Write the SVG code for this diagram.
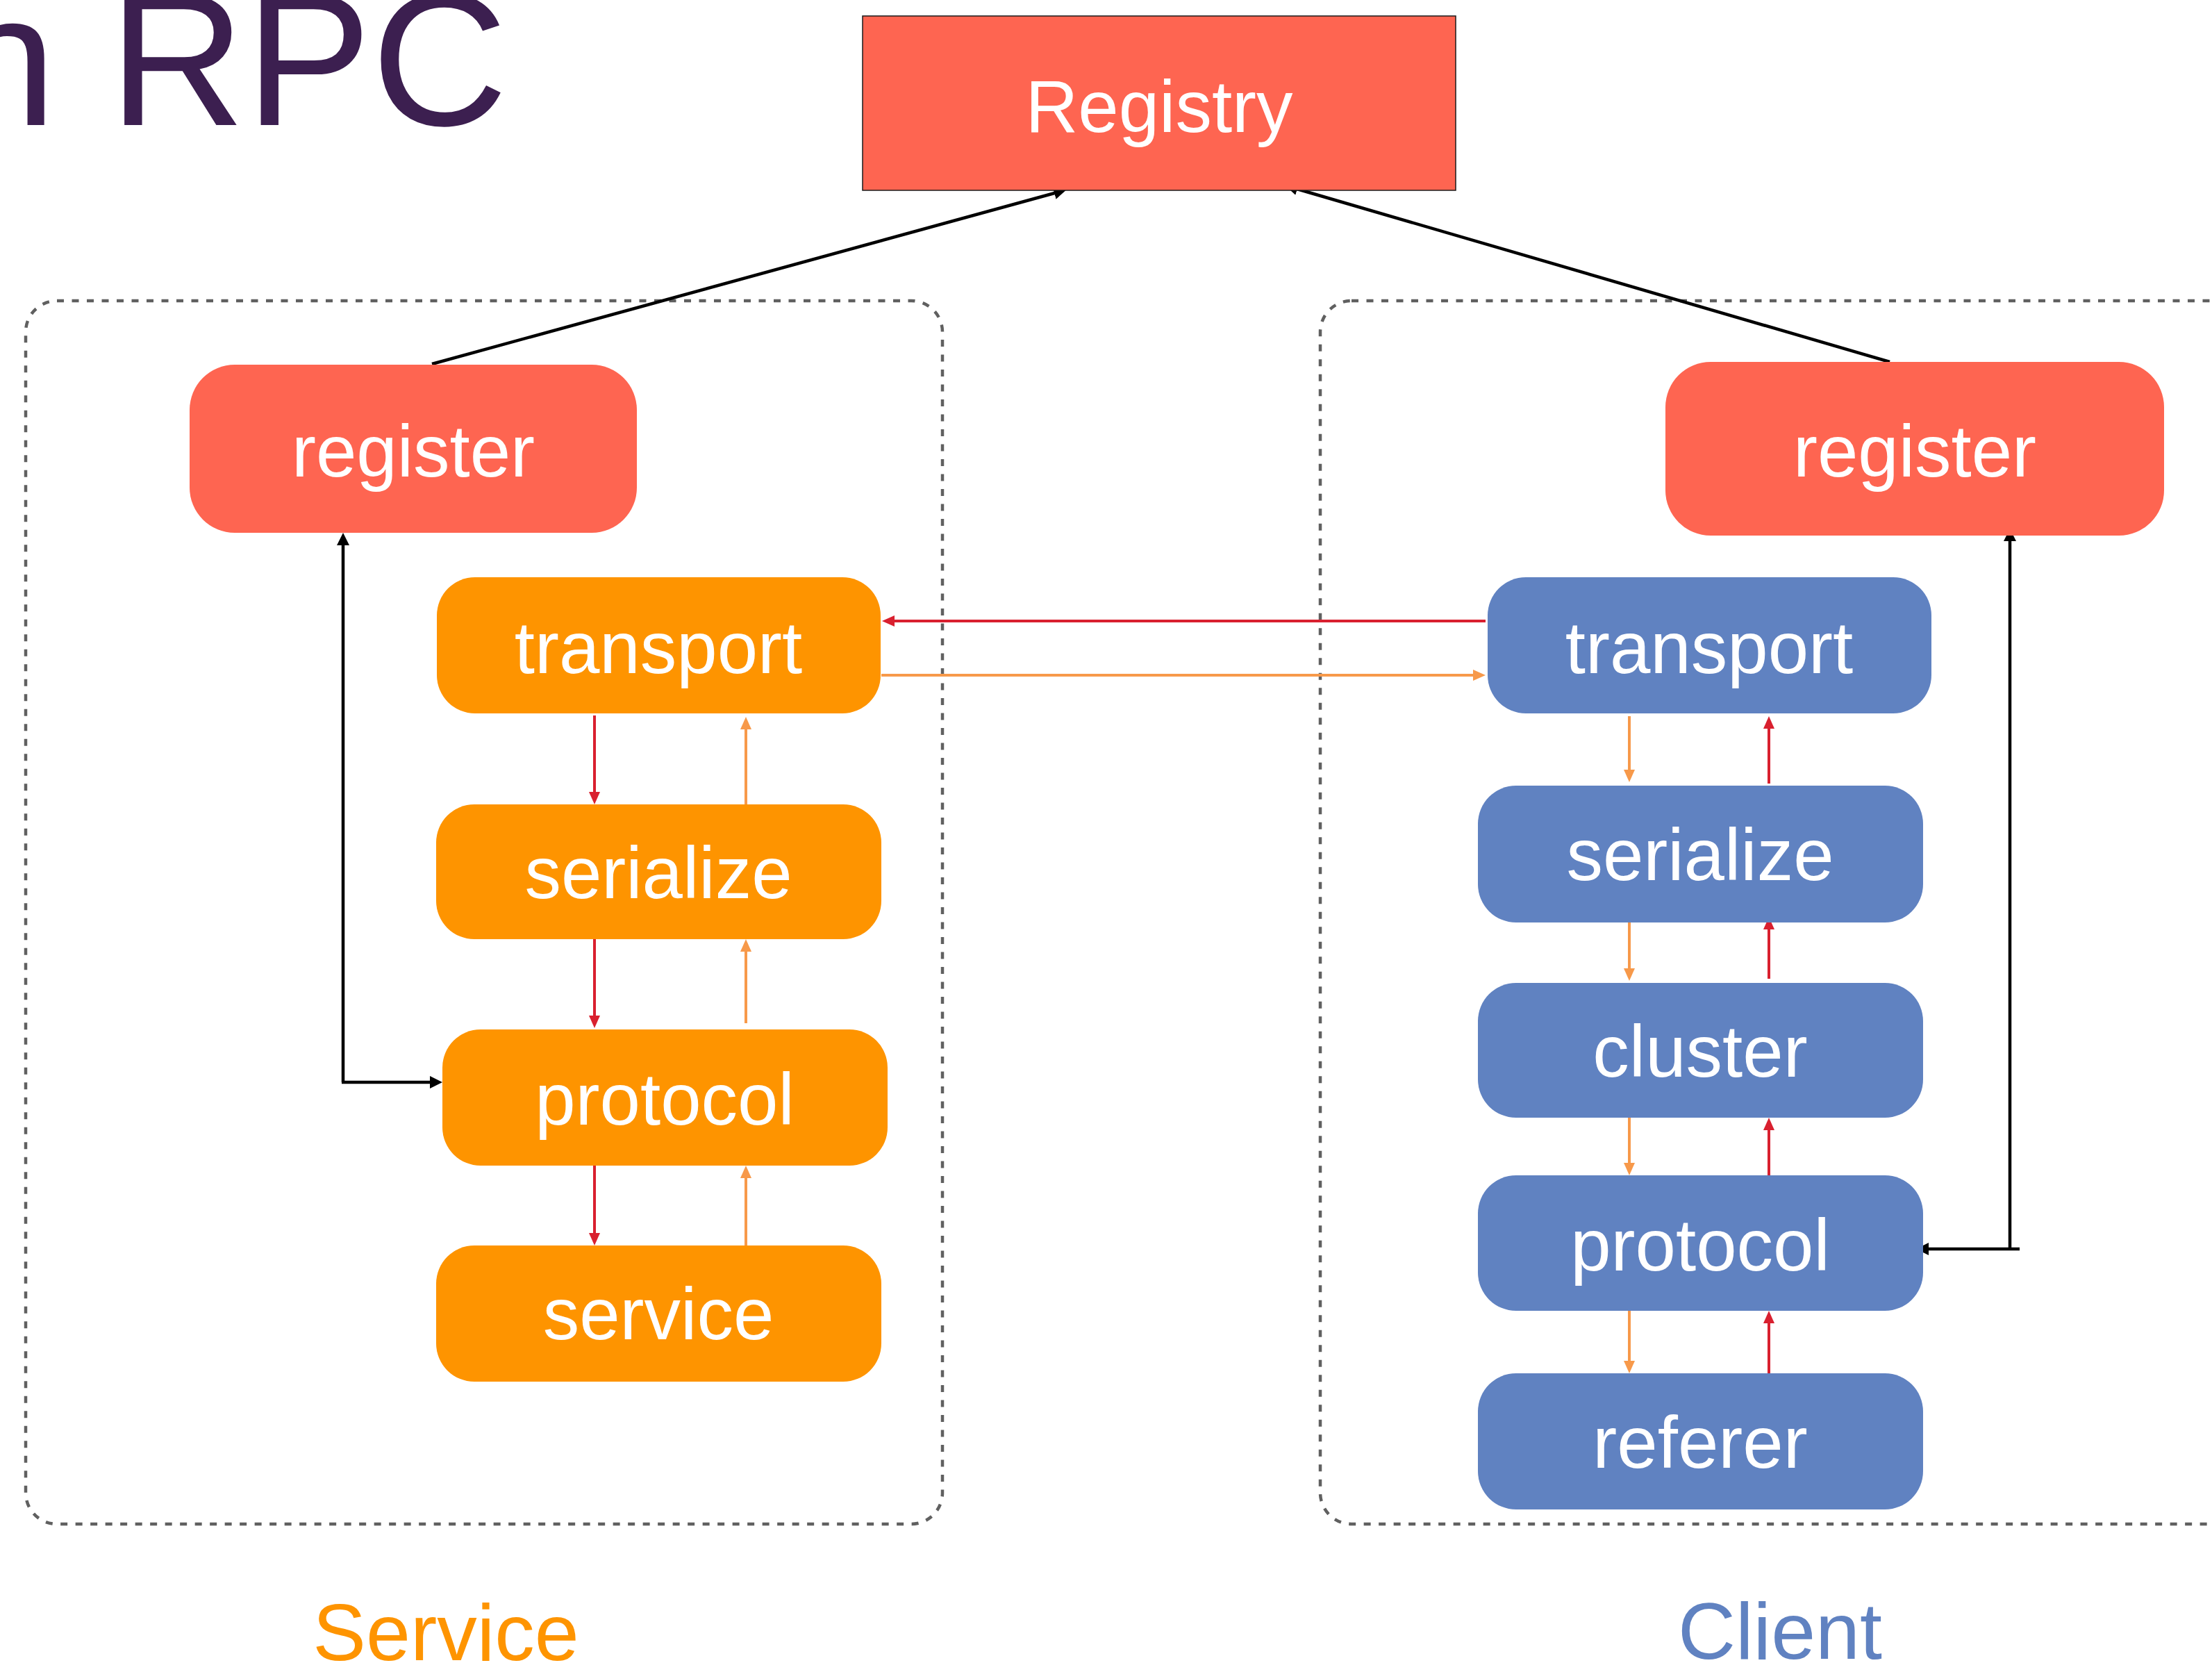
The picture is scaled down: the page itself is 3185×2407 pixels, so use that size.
<svg xmlns="http://www.w3.org/2000/svg" width="3185" height="2407" viewBox="0 0 3185 2407">
  <style>
    .lbl { font-family: "Liberation Sans", Arial, Helvetica, sans-serif; font-size: 105px; fill: #ffffff; text-anchor: middle; }
    .coral { fill: #FE6551; }
    .orange { fill: #FE9400; }
    .blue { fill: #6082C1; }
    .group-box { fill: none; stroke: #606060; stroke-width: 4.5; stroke-dasharray: 10 11.5; }
    .blk { fill: none; stroke: #000000; stroke-width: 4.5; }
    .red { fill: none; stroke: #D9202F; stroke-width: 4; }
    .org { fill: none; stroke: #F7994A; stroke-width: 4; }
    .caption { font-family: "Liberation Sans", Arial, Helvetica, sans-serif; font-size: 115px; text-anchor: middle; }
  </style>
  <defs>
    <marker id="ah-black" markerUnits="userSpaceOnUse" markerWidth="18" markerHeight="18" viewBox="0 0 18 18" refX="4" refY="9" orient="auto">
      <path d="M0,0 L18,9 L0,18 z" fill="#000000"/>
    </marker>
    <marker id="ah-red" markerUnits="userSpaceOnUse" markerWidth="18" markerHeight="16" viewBox="0 0 18 16" refX="4" refY="8" orient="auto">
      <path d="M0,0 L18,8 L0,16 z" fill="#D9202F"/>
    </marker>
    <marker id="ah-orange" markerUnits="userSpaceOnUse" markerWidth="18" markerHeight="16" viewBox="0 0 18 16" refX="4" refY="8" orient="auto">
      <path d="M0,0 L18,8 L0,16 z" fill="#F7994A"/>
    </marker>
  </defs>

  <rect width="3185" height="2407" fill="#ffffff"/>

  <!-- heading -->
  <text x="-70" y="180" font-family="Liberation Sans, Arial, sans-serif" font-size="272" fill="#3C1F50">n RPC</text>

  <!-- side containers -->
  <rect class="group-box" x="37" y="433" width="1320" height="1761" rx="45"/>
  <rect class="group-box" x="1901" y="433" width="1380" height="1761" rx="45"/>

  <!-- connectors -->
  <g id="connectors">
    <!-- registration links -->
    <path class="blk" d="M622,524 L1522,277" marker-end="url(#ah-black)"/>
    <path class="blk" d="M2721,521 L1864,271" marker-end="url(#ah-black)"/>
    <!-- service side: protocol <-> register -->
    <path class="blk" d="M494,1558 L494,781" marker-end="url(#ah-black)"/>
    <path class="blk" d="M492,1558 L623,1558" marker-end="url(#ah-black)"/>
    <!-- client side: register <-> protocol -->
    <path class="blk" d="M2894,1798 L2894,775" marker-end="url(#ah-black)"/>
    <path class="blk" d="M2908,1798 L2773,1798" marker-end="url(#ah-black)"/>

    <!-- transport to transport -->
    <path class="red" d="M2139,894 L1284,894" marker-end="url(#ah-red)"/>
    <path class="org" d="M1269,972 L2125,972" marker-end="url(#ah-orange)"/>

    <!-- service stack: down (red) -->
    <path class="red" d="M856,1030 L856,1144" marker-end="url(#ah-red)"/>
    <path class="red" d="M856,1352 L856,1466" marker-end="url(#ah-red)"/>
    <path class="red" d="M856,1678 L856,1779" marker-end="url(#ah-red)"/>
    <!-- service stack: up (orange) -->
    <path class="org" d="M1074,1158 L1074,1046" marker-end="url(#ah-orange)"/>
    <path class="org" d="M1074,1473 L1074,1366" marker-end="url(#ah-orange)"/>
    <path class="org" d="M1074,1793 L1074,1692" marker-end="url(#ah-orange)"/>

    <!-- client stack: down (orange) -->
    <path class="org" d="M2346,1031 L2346,1112" marker-end="url(#ah-orange)"/>
    <path class="org" d="M2346,1328 L2346,1398" marker-end="url(#ah-orange)"/>
    <path class="org" d="M2346,1609 L2346,1678" marker-end="url(#ah-orange)"/>
    <path class="org" d="M2346,1887 L2346,1963" marker-end="url(#ah-orange)"/>
    <!-- client stack: up (red) -->
    <path class="red" d="M2547,1128 L2547,1045" marker-end="url(#ah-red)"/>
    <path class="red" d="M2547,1409 L2547,1334" marker-end="url(#ah-red)"/>
    <path class="red" d="M2547,1692 L2547,1623" marker-end="url(#ah-red)"/>
    <path class="red" d="M2547,1977 L2547,1901" marker-end="url(#ah-red)"/>
  </g>

  <!-- registry -->
  <g id="registry">
    <rect x="1242" y="23" width="854" height="251" fill="#FE6551" stroke="#1a1a1a" stroke-width="1.5"/>
    <text class="lbl" x="1669" y="190">Registry</text>
  </g>

  <!-- service side -->
  <g id="svc-register">
    <rect class="coral" x="273" y="525" width="644" height="242" rx="65"/>
    <text class="lbl" x="595" y="686">register</text>
  </g>
  <g id="svc-transport">
    <rect class="orange" x="629" y="831" width="639" height="196" rx="55"/>
    <text class="lbl" x="948" y="969">transport</text>
  </g>
  <g id="svc-serialize">
    <rect class="orange" x="628" y="1158" width="641" height="194" rx="55"/>
    <text class="lbl" x="948" y="1293">serialize</text>
  </g>
  <g id="svc-protocol">
    <rect class="orange" x="637" y="1482" width="641" height="196" rx="55"/>
    <text class="lbl" x="957" y="1619">protocol</text>
  </g>
  <g id="svc-service">
    <rect class="orange" x="628" y="1793" width="641" height="196" rx="55"/>
    <text class="lbl" x="948" y="1928">service</text>
  </g>

  <!-- client side -->
  <g id="cli-register">
    <rect class="coral" x="2398" y="521" width="718" height="250" rx="65"/>
    <text class="lbl" x="2757" y="686">register</text>
  </g>
  <g id="cli-transport">
    <rect class="blue" x="2142" y="831" width="639" height="196" rx="55"/>
    <text class="lbl" x="2461" y="969">transport</text>
  </g>
  <g id="cli-serialize">
    <rect class="blue" x="2128" y="1131" width="641" height="197" rx="55"/>
    <text class="lbl" x="2448" y="1267">serialize</text>
  </g>
  <g id="cli-cluster">
    <rect class="blue" x="2128" y="1415" width="641" height="194" rx="55"/>
    <text class="lbl" x="2448" y="1550">cluster</text>
  </g>
  <g id="cli-protocol">
    <rect class="blue" x="2128" y="1692" width="641" height="195" rx="55"/>
    <text class="lbl" x="2448" y="1829">protocol</text>
  </g>
  <g id="cli-referer">
    <rect class="blue" x="2128" y="1977" width="641" height="196" rx="55"/>
    <text class="lbl" x="2448" y="2113">referer</text>
  </g>

  <!-- side captions -->
  <text class="caption" x="642" y="2390" fill="#FE9400">Service</text>
  <text class="caption" x="2563" y="2388" fill="#6082C1">Client</text>
</svg>
